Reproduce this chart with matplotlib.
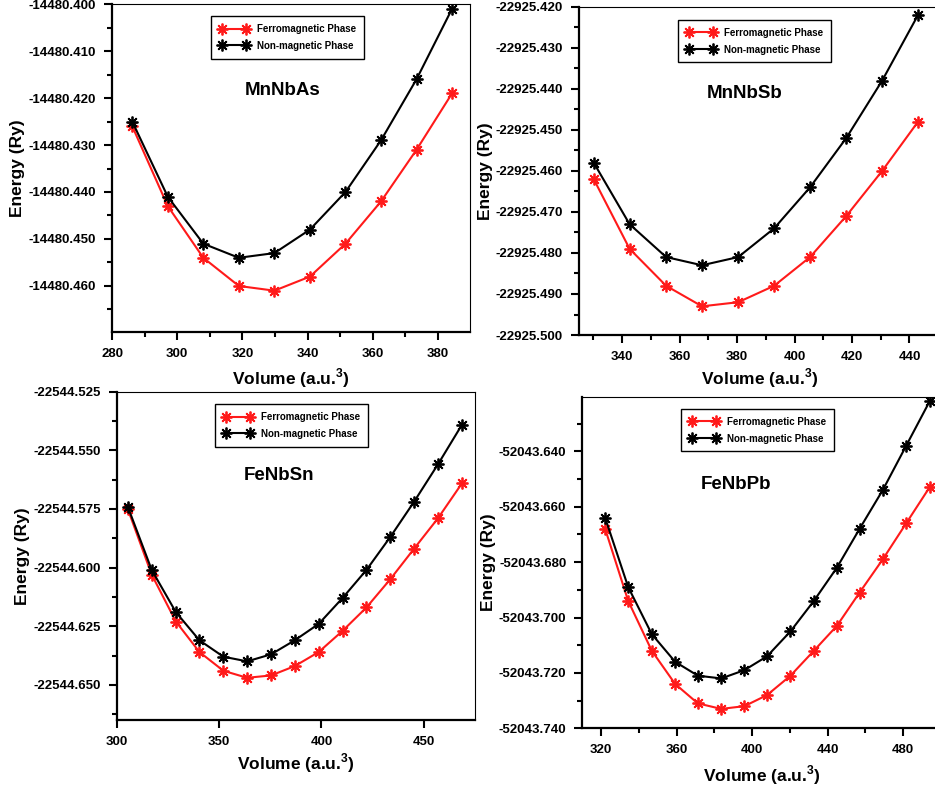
import numpy as np
import matplotlib
matplotlib.use("Agg")
from matplotlib import pyplot as plt
from matplotlib.ticker import MultipleLocator, FormatStrFormatter

plt.rcParams["font.family"] = ["Liberation Sans", "DejaVu Sans"]
plt.rcParams["font.weight"] = "bold"
plt.rcParams["mathtext.fontset"] = "custom"
plt.rcParams["mathtext.rm"] = "Liberation Sans"
plt.rcParams["mathtext.bf"] = "Liberation Sans:bold"

# MnNbAs
vol_mnnbas = [286.2, 297.1, 308.0, 318.9, 329.8, 340.7, 351.6, 362.5, 373.4, 384.3]
fm_mnnbas = [-14480.426, -14480.443, -14480.454, -14480.460, -14480.461,
             -14480.458, -14480.451, -14480.442, -14480.431, -14480.419]
nm_mnnbas = [-14480.425, -14480.441, -14480.451, -14480.454, -14480.453,
             -14480.448, -14480.440, -14480.429, -14480.416, -14480.401]

# MnNbSb
vol_mnnbsb = [330.1, 342.6, 355.3, 367.8, 380.4, 392.9, 405.4, 418.0, 430.5, 443.0]
fm_mnnbsb = [-22925.462, -22925.479, -22925.488, -22925.493, -22925.492,
             -22925.488, -22925.481, -22925.471, -22925.460, -22925.448]
nm_mnnbsb = [-22925.458, -22925.473, -22925.481, -22925.483, -22925.481,
             -22925.474, -22925.464, -22925.452, -22925.438, -22925.422]

# FeNbSn
vol_fenbsn = [305.4, 317.1, 328.9, 340.4, 352.1, 363.7, 375.4, 387.0,
              398.7, 410.3, 422.0, 433.6, 445.2, 456.9, 468.7]
fm_fenbsn = [-22544.575, -22544.603, -22544.623, -22544.636, -22544.644,
             -22544.647, -22544.646, -22544.642, -22544.636, -22544.627,
             -22544.617, -22544.605, -22544.592, -22544.579, -22544.564]
nm_fenbsn = [-22544.574, -22544.601, -22544.619, -22544.631, -22544.638,
             -22544.640, -22544.637, -22544.631, -22544.624, -22544.613,
             -22544.601, -22544.587, -22544.572, -22544.556, -22544.539]

# FeNbPb
vol_fenbpb = [322.1, 334.3, 346.8, 359.2, 371.2, 383.6, 395.9, 407.9,
              420.3, 432.7, 444.9, 456.9, 469.2, 481.6, 494.0]
fm_fenbpb = [-52043.668, -52043.694, -52043.712, -52043.724, -52043.731,
             -52043.733, -52043.732, -52043.728, -52043.721, -52043.712,
             -52043.703, -52043.691, -52043.679, -52043.666, -52043.653]
nm_fenbpb = [-52043.664, -52043.689, -52043.706, -52043.716, -52043.721,
             -52043.722, -52043.719, -52043.714, -52043.705, -52043.694,
             -52043.682, -52043.668, -52043.654, -52043.638, -52043.622]

panels = [
    # name, x, fm, nm, rect, xlim, ylim, xmaj, xmin, ymaj, ymin, name pos, legend pos, ylabel x, xlabel y
    ("MnNbAs", vol_mnnbas, fm_mnnbas, nm_mnnbas, [0.1198, 0.5797, 0.3829, 0.4152],
     (280, 389.8), (-14480.4698, -14480.400), 20, 10, 0.01, 0.005,
     (0.4775, 0.736), (0.276, 0.963), -0.243, -0.104),
    ("MnNbSb", vol_mnnbsb, fm_mnnbsb, nm_mnnbsb, [0.6193, 0.5759, 0.3872, 0.4156],
     (325, 451), (-22925.500, -22925.420), 20, 10, 0.01, 0.005,
     (0.4586, 0.736), (0.274, 0.9595), -0.238, -0.097),
    ("FeNbSn", vol_fenbsn, fm_fenbsn, nm_fenbsn, [0.1248, 0.0886, 0.3832, 0.4156],
     (300, 475), (-22544.665, -22544.525), 50, None, 0.025, 0.0125,
     (0.4538, 0.746), (0.275, 0.9616), -0.243, -0.097),
    ("FeNbPb", vol_fenbpb, fm_fenbpb, nm_fenbpb, [0.6228, 0.0781, 0.3835, 0.4197],
     (310, 500), (-52043.740, -52043.6203), 40, 20, 0.02, 0.01,
     (0.4278, 0.736), (0.276, 0.963), -0.24, -0.105),
]

fig = plt.figure(figsize=(9.35, 7.9), dpi=100)
star = (8, 2, 0)

for (name, x, fm, nm, rect, xlim, ylim, xmaj, xmin, ymaj, ymin,
     npos, lpos, ylx, xly) in panels:
    ax = fig.add_axes(rect)
    ax.plot(x, fm, color="#ff1a1a", lw=1.5, marker=star, ms=8.5, mew=1.3,
            label="Ferromagnetic Phase")
    ax.plot(x, nm, color="black", lw=1.5, marker=star, ms=8.5, mew=1.3,
            label="Non-magnetic Phase")
    ax.set_xlim(*xlim)
    ax.set_ylim(*ylim)

    ax.xaxis.set_major_locator(MultipleLocator(xmaj))
    if xmin:
        ax.xaxis.set_minor_locator(MultipleLocator(xmin))
    ax.yaxis.set_major_locator(MultipleLocator(ymaj))
    ax.yaxis.set_minor_locator(MultipleLocator(ymin))
    ax.yaxis.set_major_formatter(FormatStrFormatter("%.3f"))
    ax.xaxis.set_major_formatter(FormatStrFormatter("%d"))

    ax.tick_params(which="major", direction="out", length=6, width=1.5,
                   labelsize=9.5, pad=5.5)
    ax.tick_params(which="minor", direction="out", length=3.5, width=1.5)
    ax.tick_params(top=False, right=False, which="both")
    for lab in ax.get_xticklabels() + ax.get_yticklabels():
        lab.set_fontweight("bold")

    ax.spines["left"].set_linewidth(1.6)
    ax.spines["bottom"].set_linewidth(1.6)
    ax.spines["top"].set_linewidth(0.8)
    ax.spines["right"].set_linewidth(0.8)

    ax.set_ylabel("Energy (Ry)", fontsize=12.5, fontweight="bold")
    ax.set_xlabel(r"Volume (a.u.$^{\mathregular{3}}$)", fontsize=12.5,
                  fontweight="bold")
    ax.yaxis.set_label_coords(ylx, 0.5)
    ax.xaxis.set_label_coords(0.5, xly)

    ax.text(npos[0], npos[1], name, transform=ax.transAxes, fontsize=13.5,
            fontweight="bold", ha="center", va="center")

    leg = ax.legend(loc="upper left", bbox_to_anchor=lpos, borderaxespad=0,
                    fontsize=7, numpoints=2, handlelength=3.1,
                    handletextpad=0.85, labelspacing=0.7, borderpad=0.8,
                    fancybox=False, framealpha=1, edgecolor="black")
    leg.get_frame().set_linewidth(1.0)
    for t in leg.get_texts():
        t.set_fontweight("bold")

fig.savefig("out.png", dpi=100)
